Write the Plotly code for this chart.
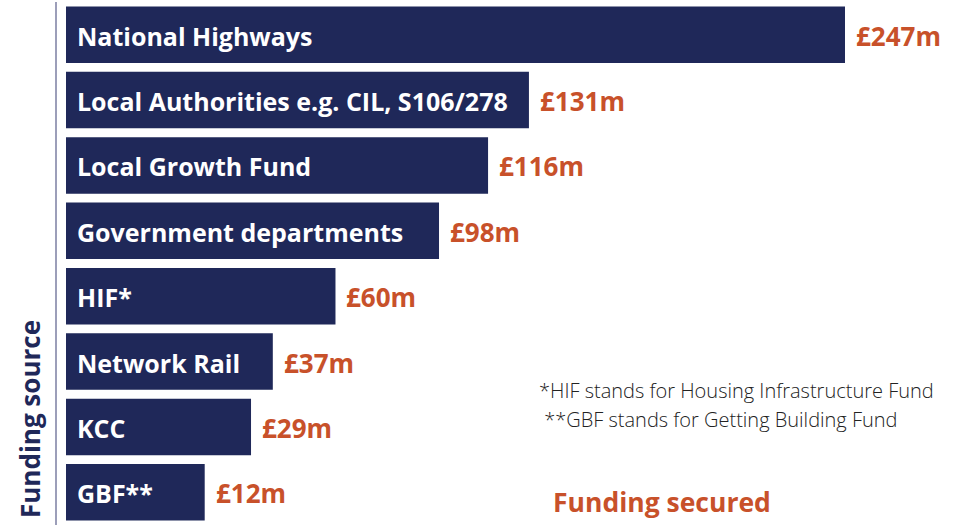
import plotly.graph_objects as go

categories = ["National Highways", "Local Authorities e.g. CIL, S106/278",
              "Local Growth Fund", "Government departments", "HIF*",
              "Network Rail", "KCC", "GBF**"]
values = [247, 131, 116, 98, 60, 37, 29, 12]
value_labels = ["£247m", "£131m", "£116m", "£98m", "£60m", "£37m", "£29m", "£12m"]
footnotes = ["*HIF stands for Housing Infrastructure Fund",
             " **GBF stands for Getting Building Fund"]

NAVY = "#1f2859"
ORANGE = "#c8512a"
FONT = "Open Sans"

# pixel mapping of the value axis (infographic-style offset start)
PX0 = 172.0                     # pixel where value 0 lies
PXU = (845.0 - PX0) / 247.0     # pixels per unit
L, R = 57, 4
PW = 964 - L - R
bar_base = (66 - PX0) / PXU     # visual start of bars

fig = go.Figure()
fig.add_trace(go.Bar(
    y=categories,
    x=[v - bar_base for v in values],
    base=bar_base,
    orientation="h",
    marker=dict(color=NAVY, line=dict(width=0)),
    hoverinfo="skip",
))

annotations = []
for cat, v, lab in zip(categories, values, value_labels):
    annotations.append(dict(x=bar_base, y=cat, xref="x", yref="y", text=cat,
                            xanchor="left", yanchor="middle", xshift=9, yshift=-1,
                            showarrow=False,
                            font=dict(family=FONT, size=25, color="white", weight="bold")))
    annotations.append(dict(x=v, y=cat, xref="x", yref="y", text=lab,
                            xanchor="left", yanchor="middle", xshift=9, yshift=-1,
                            showarrow=False,
                            font=dict(family=FONT, size=26, color=ORANGE, weight="bold")))

def px(x):
    return (x - L) / PW

def py(y):
    return 1 - (y - 2) / 523

annotations.append(dict(x=px(30), y=py(419), xref="paper", yref="paper",
                        text="Funding source", textangle=-90, showarrow=False,
                        xanchor="center", yanchor="middle",
                        font=dict(family=FONT, size=26, color=NAVY, weight="bold")))
annotations.append(dict(x=px(537), y=py(390), xref="paper", yref="paper",
                        text=footnotes[0], showarrow=False, xanchor="left", yanchor="middle",
                        font=dict(family=FONT, size=20, color="#222222", weight=300)))
annotations.append(dict(x=px(537), y=py(419), xref="paper", yref="paper",
                        text=footnotes[1], showarrow=False, xanchor="left", yanchor="middle",
                        font=dict(family=FONT, size=20, color="#222222", weight=300)))
annotations.append(dict(x=px(551), y=py(502), xref="paper", yref="paper",
                        text="Funding secured", showarrow=False, xanchor="left", yanchor="middle",
                        font=dict(family=FONT, size=26.5, color=ORANGE, weight="bold")))

fig.update_layout(
    width=964, height=526,
    margin=dict(l=L, r=R, t=2, b=1),
    paper_bgcolor="white", plot_bgcolor="white",
    bargap=0.137,
    showlegend=False,
    annotations=annotations,
    xaxis=dict(range=[(L - PX0) / PXU, (L + PW - PX0) / PXU], visible=False, fixedrange=True),
    yaxis=dict(autorange="reversed", showticklabels=False, ticks="", showgrid=False,
               zeroline=False, showline=True, linecolor="#9c9eb9", linewidth=2,
               fixedrange=True),
)

fig.write_html("out.html", config={"displayModeBar": False},
               post_script="document.body.style.margin='0';")
